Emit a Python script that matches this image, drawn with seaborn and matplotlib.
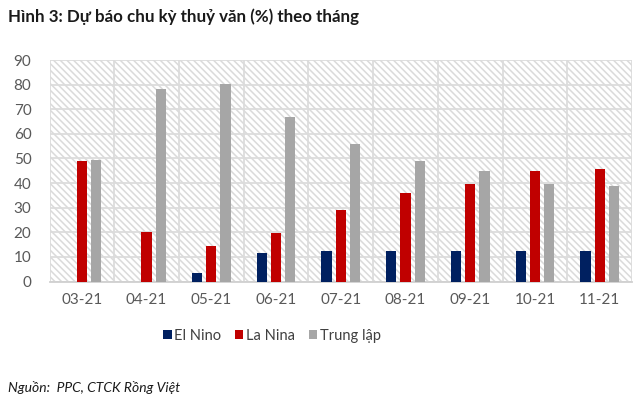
import matplotlib
matplotlib.use("Agg")
import matplotlib.pyplot as plt
import seaborn as sns
import pandas as pd
from matplotlib.patches import Rectangle
from matplotlib.ticker import MultipleLocator

months = ["03-21", "04-21", "05-21", "06-21", "07-21", "08-21", "09-21", "10-21", "11-21"]
el_nino = [0, 0, 3.5, 11.6, 12.4, 12.4, 12.4, 12.4, 12.4]
la_nina = [48.8, 20.3, 14.6, 19.6, 29.1, 35.9, 39.8, 45.1, 45.7]
trung_lap = [49.2, 78.2, 80.1, 66.9, 55.7, 49.1, 45.1, 39.8, 39.0]
series_names = ["El Nino", "La Nina", "Trung lập"]
colors = ["#002060", "#C00000", "#A6A6A6"]

rows = []
for name, vals in zip(series_names, [el_nino, la_nina, trung_lap]):
    for m, v in zip(months, vals):
        rows.append({"month": m, "series": name, "value": v})
df = pd.DataFrame(rows)

sns.set_theme(style="white")
plt.rcParams["font.family"] = ["Lato", "DejaVu Sans"]
plt.rcParams["hatch.linewidth"] = 1.1

fig = plt.figure(figsize=(6.4, 4.03), dpi=100)
ax = fig.add_axes([49.5 / 640, 1 - 281.5 / 403, (632 - 49.5) / 640, (281.5 - 60) / 403])

# hatched background
bg = Rectangle((0, 0), 1, 1, transform=ax.transAxes, facecolor="white",
               edgecolor="#DADADA", hatch="\\\\\\\\\\", linewidth=0, zorder=0)
ax.add_patch(bg)

sns.barplot(data=df, x="month", y="value", hue="series", order=months,
            hue_order=series_names, palette=colors, width=0.66, gap=0.28,
            saturation=1, linewidth=0, ax=ax, zorder=3, legend=True)

ax.set_xlim(-0.5, len(months) - 0.5)
ax.set_ylim(0, 90)
ax.yaxis.set_major_locator(MultipleLocator(10))
ax.set_xticks(range(len(months)))
ax.set_xticks([i + 0.5 for i in range(-1, len(months))], minor=True)
ax.grid(axis="y", which="major", color="#DCDCDC", linewidth=1.3, zorder=1)
ax.grid(axis="x", which="minor", color="#DCDCDC", linewidth=1.3, zorder=1)
ax.grid(axis="x", which="major", visible=False)
ax.set_axisbelow(True)
for s in ["top", "right", "left"]:
    ax.spines[s].set_visible(False)
ax.spines["bottom"].set_color("#D0D0D0")
ax.spines["bottom"].set_linewidth(1.3)
ax.tick_params(axis="both", which="both", length=0)
ax.tick_params(axis="y", pad=13, labelsize=11, labelcolor="#595959")
ax.tick_params(axis="x", pad=8, labelsize=11, labelcolor="#595959")
ax.set_xlabel("")
ax.set_ylabel("")

handles, labels = ax.get_legend_handles_labels()
ax.legend(handles, labels, loc="center", bbox_to_anchor=(272 / 640, 1 - 336 / 403),
          bbox_transform=fig.transFigure, ncol=3, frameon=False,
          handlelength=0.6, handleheight=0.6, handletextpad=0.2, columnspacing=0.9,
          fontsize=10.5, labelcolor="#404040")

fig.text(8 / 640, 1 - 17 / 403, "Hình 3: Dự báo chu kỳ thuỷ văn (%) theo tháng",
         fontsize=12.2, fontweight="bold", color="#1A1A1A", va="center", ha="left")
fig.text(8 / 640, 1 - 387 / 403, "Nguồn:  PPC, CTCK Rồng Việt",
         fontsize=10, fontstyle="italic", color="#1A1A1A", va="center", ha="left")

fig.savefig("out.png", dpi=100)
